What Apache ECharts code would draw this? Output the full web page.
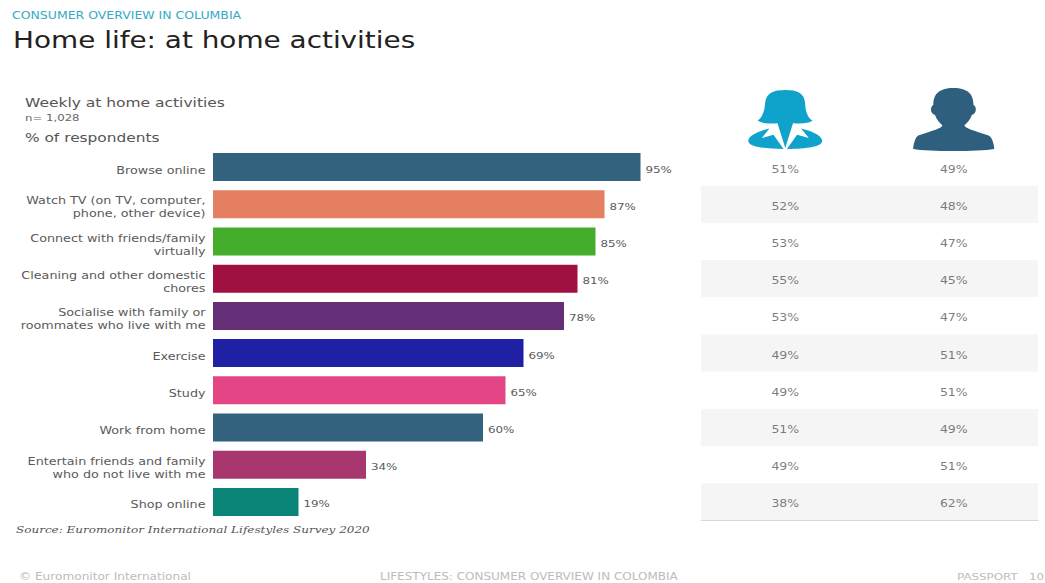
<!DOCTYPE html>
<html>
<head>
<meta charset="utf-8">
<style>
html,body{margin:0;padding:0;background:#fff;overflow:hidden}
/* The slide's type is set wide, so the drawing is widened as a whole */
#chart{width:836px;height:583px;transform:scaleX(1.25);transform-origin:0 0}
</style>
<script src="https://cdn.jsdelivr.net/npm/echarts@6/dist/echarts.min.js"></script>
</head>
<body>
<div id="chart"></div>
<script>
// Weekly at-home activities, share of respondents, with the gender split per activity
const activities = [
  'Browse online',
  'Watch TV (on TV, computer,\nphone, other device)',
  'Connect with friends/family\nvirtually',
  'Cleaning and other domestic\nchores',
  'Socialise with family or\nroommates who live with me',
  'Exercise',
  'Study',
  'Work from home',
  'Entertain friends and family\nwho do not live with me',
  'Shop online'
];
const respondents = [95, 87, 85, 81, 78, 69, 65, 60, 34, 19];
const women = [51, 52, 53, 55, 53, 49, 49, 51, 49, 38];
const men = [49, 48, 47, 45, 47, 51, 51, 49, 51, 62];
const barColors = ['#33627f', '#e57f62', '#44ad2b', '#a01040', '#652f78', '#2020a5', '#e34585', '#33627f', '#a8376f', '#0a8578'];
const genders = ['Women', 'Men'];

const widen = 1.25;
const sx = x => x / widen;
const font = 'DejaVu Sans';
const textGrey = '#5a5a5a';

const womanIcon = 'M285 60C250 60 228 68 225 100C224 125 215 145 203 152C215 162 240 162 262 160L285 235L308 160C330 162 355 162 366 152C352 145 345 125 344 100C342 68 320 60 285 60Z' +
  'M238 176L215 205L250 195L280 238C220 236 175 232 175 212C178 195 210 183 238 176Z' +
  'M332 176L355 205L320 195L290 238C350 236 395 232 395 212C392 195 360 183 332 176Z';
const manIcon = 'M795 55C750 55 735 75 735 105C725 110 725 130 740 135C745 150 755 160 762 165C760 175 735 180 690 195C680 200 675 225 675 235C720 243 870 243 917 235C917 225 912 200 900 195C855 180 830 175 828 165C835 160 845 150 850 135C865 130 865 110 855 105C855 75 840 55 795 55Z';
const icons = [
  { path: womanIcon, width: 74, height: 59, top: 90, color: '#0fa3cc' },
  { path: manIcon, width: 81, height: 63, top: 88, color: '#2f5f7f' }
];

function headText(text, left, top, fontSize, color, extra) {
  return {
    text: text, left: sx(left), top: top, padding: 0,
    textStyle: Object.assign({ fontFamily: font, fontSize: fontSize, color: color, fontWeight: 'normal' }, extra || {})
  };
}

function shareSeries(name, values) {
  return {
    name: name, type: 'scatter', xAxisIndex: 1, yAxisIndex: 1, symbolSize: 0,
    data: values.map((v, i) => [name, activities[i], v]),
    encode: { x: 0, y: 1 },
    label: {
      show: true, position: 'inside', offset: [0, 2.5],
      fontFamily: font, fontSize: 10, color: textGrey,
      formatter: p => p.value[2] + '%'
    },
    silent: true
  };
}

const chart = echarts.init(document.getElementById('chart'), null, { renderer: 'svg' });
chart.setOption({
  animation: false,
  backgroundColor: '#fff',
  title: [
    headText('CONSUMER OVERVIEW IN COLUMBIA', 12, 11, 10, '#35aac6'),
    headText('Home life: at home activities', 13, 29, 22.3, '#222'),
    headText('Weekly at home activities', 25, 97, 12.4, '#555'),
    headText('n= 1,028', 25, 113, 9.4, '#666'),
    headText('% of respondents', 25, 132, 12.3, '#555'),
    headText('Source: Euromonitor International Lifestyles Survey 2020', 16, 525, 9.6, '#555', { fontFamily: 'DejaVu Serif', fontStyle: 'italic' }),
    headText('© Euromonitor International', 19, 572, 9.7, '#bcbcbc'),
    headText('LIFESTYLES: CONSUMER OVERVIEW IN COLOMBIA', 380, 572, 9.6, '#bcbcbc'),
    headText('PASSPORT   10', 957, 572, 9.5, '#bcbcbc')
  ],
  grid: [
    { left: sx(213), top: 148.5, width: sx(450), height: 372 },
    { left: sx(701), top: 148.5, width: sx(337), height: 372 },
    // Activity names sit a little below the bar centres, so they get their own grid
    { left: sx(213), top: 151.5, width: sx(450), height: 372 }
  ],
  xAxis: [
    { type: 'value', gridIndex: 0, min: 0, max: 100, show: false },
    {
      type: 'category', gridIndex: 1, data: genders, position: 'bottom',
      axisLine: { show: true, lineStyle: { color: '#d8d8d8', width: 1 } },
      axisTick: { show: false }, axisLabel: { show: false }
    },
    { type: 'value', gridIndex: 2, min: 0, max: 100, show: false }
  ],
  yAxis: [
    { type: 'category', gridIndex: 0, inverse: true, data: activities, show: false },
    {
      type: 'category', gridIndex: 1, inverse: true, data: activities,
      axisLine: { show: false }, axisTick: { show: false }, axisLabel: { show: false },
      splitLine: { show: false },
      splitArea: { show: true, areaStyle: { color: ['#ffffff', '#f5f5f5'] } }
    },
    {
      type: 'category', gridIndex: 2, inverse: true, data: activities,
      axisLine: { show: false }, axisTick: { show: false }, splitLine: { show: false },
      axisLabel: { fontFamily: font, fontSize: 10.2, lineHeight: 13, color: textGrey, margin: 6, align: 'right' }
    }
  ],
  series: [
    {
      name: 'Respondents', type: 'bar', xAxisIndex: 0, yAxisIndex: 0, barWidth: 28,
      data: respondents.map((v, i) => ({ value: v, itemStyle: { color: barColors[i] } })),
      label: {
        show: true, position: 'right', distance: 4, offset: [0, 2.5],
        fontFamily: font, fontSize: 9.5, color: textGrey, formatter: '{c}%'
      },
      silent: true
    },
    shareSeries(genders[0], women),
    shareSeries(genders[1], men),
    {
      // Gender silhouettes above the two share columns
      name: 'Icons', type: 'custom', xAxisIndex: 1, yAxisIndex: 1, clip: false, silent: true,
      data: genders.map((g, i) => [g, activities[0], i]),
      encode: { x: 0, y: 1 },
      renderItem: (params, api) => {
        const icon = icons[api.value(2)];
        const cx = api.coord([params.dataIndex, 0])[0];
        const w = sx(icon.width);
        return {
          type: 'path',
          shape: { pathData: icon.path, layout: 'cover', x: cx - w / 2, y: icon.top, width: w, height: icon.height },
          style: { fill: icon.color }
        };
      }
    }
  ]
});
</script>
</body>
</html>
